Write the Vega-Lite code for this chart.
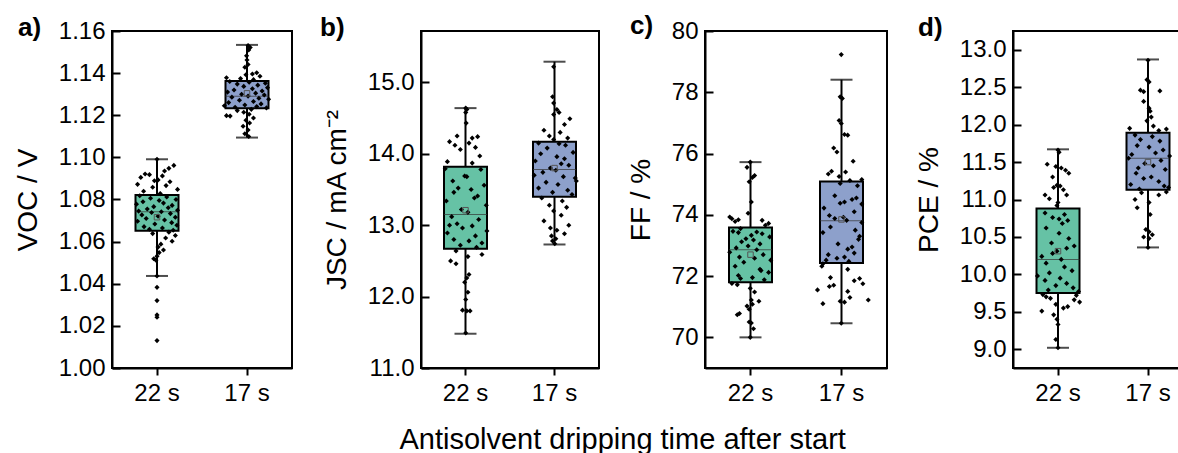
{
"$schema":"https://vega.github.io/schema/vega-lite/v6.json",
"padding":{"left":13,"right":0,"top":12,"bottom":0},
"title":{"text":"Antisolvent dripping time after start","orient":"bottom","anchor":"middle","fontSize":29,"font":"Liberation Sans","fontWeight":"normal","color":"black","offset":20,"dx":19},
"spacing":26,
"config":{
 "view":{"stroke":"black","strokeWidth":2},
 "font":"Liberation Sans",
 "axis":{"labelFont":"Liberation Sans","labelFontSize":24,"labelColor":"black","tickColor":"black","domainColor":"black","domainWidth":2,"titleFont":"Liberation Sans","titleFontSize":28,"titleFontWeight":"normal","titleColor":"black","grid":false,"labelOverlap":false},
 "axisX":{"tickSize":7,"tickWidth":2,"labelPadding":6,"labelAngle":0,"title":null},
 "axisY":{"tickWidth":2,"labelPadding":15,"titlePadding":16,"labelFlush":false,"zindex":1}
},
"hconcat":[
{
 "width":180,"height":337,
 "title":{"text":"a)","anchor":"start","frame":"group","dx":-94,"dy":43,"offset":0,"baseline":"alphabetic","fontSize":26,"fontWeight":"bold","font":"Liberation Sans","color":"black"},
 "layer":[
  {"data":{"name":"aB"},"mark":{"type":"rule","strokeWidth":2,"color":"black"},
   "encoding":{"x":{"field":"g","type":"nominal","scale":{"domain":["22 s","17 s"],"paddingInner":0.52,"paddingOuter":0.26}},
    "y":{"field":"lo","type":"quantitative","scale":{"domain":[1.0,1.16],"nice":false,"zero":false},
     "axis":{"title":"VOC / V","ticks":true,"tickColor":"black","values":[1,1.01,1.02,1.03,1.04,1.05,1.06,1.07,1.08,1.09,1.1,1.11,1.12,1.13,1.14,1.15,1.16],
      "labelExpr":"round(datum.value*100)%2==0 ? format(datum.value,'.2f') : ''",
      "tickSize":{"condition":{"test":"round(datum.value*100)%2==0","value":-8},"value":-4}}},
    "y2":{"field":"hi"}}},
  {"data":{"name":"aB"},"mark":{"type":"bar","stroke":"black","strokeWidth":2,"width":43},
   "encoding":{"x":{"field":"g","type":"nominal"},"y":{"field":"q1","type":"quantitative"},"y2":{"field":"q3"},
    "color":{"field":"g","type":"nominal","scale":{"domain":["22 s","17 s"],"range":["#66c2a5","#8da0cb"]},"legend":null}}},
  {"data":{"name":"aB"},"mark":{"type":"tick","color":"#333333","thickness":1,"size":43},
   "encoding":{"x":{"field":"g","type":"nominal"},"y":{"field":"med","type":"quantitative"}}},
  {"data":{"name":"aP"},"mark":{"type":"point","shape":"diamond","filled":true,"color":"black","size":26,"opacity":1},
   "encoding":{"x":{"field":"g","type":"nominal"},"xOffset":{"field":"j","type":"quantitative","scale":{"domain":[-1,1]}},"y":{"field":"v","type":"quantitative"}}},
  {"data":{"name":"aB"},"mark":{"type":"point","shape":"square","filled":false,"color":"#555555","size":30,"strokeWidth":1,"opacity":1},
   "encoding":{"x":{"field":"g","type":"nominal"},"y":{"field":"mean","type":"quantitative"}}},
  {"data":{"name":"aB"},"mark":{"type":"tick","color":"black","thickness":2,"size":22},
   "encoding":{"x":{"field":"g","type":"nominal"},"y":{"field":"lo","type":"quantitative"}}},
  {"data":{"name":"aB"},"mark":{"type":"tick","color":"black","thickness":2,"size":22},
   "encoding":{"x":{"field":"g","type":"nominal"},"y":{"field":"hi","type":"quantitative"}}}
 ]
},
{
 "width":178,"height":337,
 "title":{"text":"b)","anchor":"start","frame":"group","dx":-101,"dy":31,"offset":0,"baseline":"alphabetic","fontSize":26,"fontWeight":"bold","font":"Liberation Sans","color":"black"},
 "layer":[
  {"data":{"name":"bB"},"mark":{"type":"rule","strokeWidth":2,"color":"black"},
   "encoding":{"x":{"field":"g","type":"nominal","scale":{"domain":["22 s","17 s"],"paddingInner":0.52,"paddingOuter":0.26}},
    "y":{"field":"lo","type":"quantitative","scale":{"domain":[11.0,15.72],"nice":false,"zero":false},
     "axis":{"title":"JSC / mA cm⁻²","ticks":true,"tickColor":"black","values":[11,11.25,11.5,11.75,12,12.25,12.5,12.75,13,13.25,13.5,13.75,14,14.25,14.5,14.75,15,15.25,15.5],
      "labelExpr":"round(datum.value*4)%2==0 ? format(datum.value,'.1f') : ''",
      "tickSize":{"condition":{"test":"round(datum.value*4)%2==0","value":-8},"value":-4}}},
    "y2":{"field":"hi"}}},
  {"data":{"name":"bB"},"mark":{"type":"bar","stroke":"black","strokeWidth":2,"width":43},
   "encoding":{"x":{"field":"g","type":"nominal"},"y":{"field":"q1","type":"quantitative"},"y2":{"field":"q3"},
    "color":{"field":"g","type":"nominal","scale":{"domain":["22 s","17 s"],"range":["#66c2a5","#8da0cb"]},"legend":null}}},
  {"data":{"name":"bB"},"mark":{"type":"tick","color":"#333333","thickness":1,"size":43},
   "encoding":{"x":{"field":"g","type":"nominal"},"y":{"field":"med","type":"quantitative"}}},
  {"data":{"name":"bP"},"mark":{"type":"point","shape":"diamond","filled":true,"color":"black","size":26,"opacity":1},
   "encoding":{"x":{"field":"g","type":"nominal"},"xOffset":{"field":"j","type":"quantitative","scale":{"domain":[-1,1]}},"y":{"field":"v","type":"quantitative"}}},
  {"data":{"name":"bB"},"mark":{"type":"point","shape":"square","filled":false,"color":"#555555","size":30,"strokeWidth":1,"opacity":1},
   "encoding":{"x":{"field":"g","type":"nominal"},"y":{"field":"mean","type":"quantitative"}}},
  {"data":{"name":"bB"},"mark":{"type":"tick","color":"black","thickness":2,"size":22},
   "encoding":{"x":{"field":"g","type":"nominal"},"y":{"field":"lo","type":"quantitative"}}},
  {"data":{"name":"bB"},"mark":{"type":"tick","color":"black","thickness":2,"size":22},
   "encoding":{"x":{"field":"g","type":"nominal"},"y":{"field":"hi","type":"quantitative"}}}
 ]
},
{
 "width":182,"height":337,
 "title":{"text":"c)","anchor":"start","frame":"group","dx":-75,"dy":41,"offset":0,"baseline":"alphabetic","fontSize":26,"fontWeight":"bold","font":"Liberation Sans","color":"black"},
 "layer":[
  {"data":{"name":"cB"},"mark":{"type":"rule","strokeWidth":2,"color":"black"},
   "encoding":{"x":{"field":"g","type":"nominal","scale":{"domain":["22 s","17 s"],"paddingInner":0.52,"paddingOuter":0.26}},
    "y":{"field":"lo","type":"quantitative","scale":{"domain":[69,80],"nice":false,"zero":false},
     "axis":{"title":"FF / %","ticks":true,"tickColor":"black","values":[70,71,72,73,74,75,76,77,78,79,80],
      "labelExpr":"round(datum.value)%2==0 ? format(datum.value,'d') : ''",
      "tickSize":{"condition":{"test":"round(datum.value)%2==0","value":-8},"value":-4}}},
    "y2":{"field":"hi"}}},
  {"data":{"name":"cB"},"mark":{"type":"bar","stroke":"black","strokeWidth":2,"width":43},
   "encoding":{"x":{"field":"g","type":"nominal"},"y":{"field":"q1","type":"quantitative"},"y2":{"field":"q3"},
    "color":{"field":"g","type":"nominal","scale":{"domain":["22 s","17 s"],"range":["#66c2a5","#8da0cb"]},"legend":null}}},
  {"data":{"name":"cB"},"mark":{"type":"tick","color":"#333333","thickness":1,"size":43},
   "encoding":{"x":{"field":"g","type":"nominal"},"y":{"field":"med","type":"quantitative"}}},
  {"data":{"name":"cP"},"mark":{"type":"point","shape":"diamond","filled":true,"color":"black","size":26,"opacity":1},
   "encoding":{"x":{"field":"g","type":"nominal"},"xOffset":{"field":"j","type":"quantitative","scale":{"domain":[-1,1]}},"y":{"field":"v","type":"quantitative"}}},
  {"data":{"name":"cB"},"mark":{"type":"point","shape":"square","filled":false,"color":"#555555","size":30,"strokeWidth":1,"opacity":1},
   "encoding":{"x":{"field":"g","type":"nominal"},"y":{"field":"mean","type":"quantitative"}}},
  {"data":{"name":"cB"},"mark":{"type":"tick","color":"black","thickness":2,"size":22},
   "encoding":{"x":{"field":"g","type":"nominal"},"y":{"field":"lo","type":"quantitative"}}},
  {"data":{"name":"cB"},"mark":{"type":"tick","color":"black","thickness":2,"size":22},
   "encoding":{"x":{"field":"g","type":"nominal"},"y":{"field":"hi","type":"quantitative"}}}
 ]
},
{
 "width":180,"height":337,
 "title":{"text":"d)","anchor":"start","frame":"group","dx":-95,"dy":31,"offset":0,"baseline":"alphabetic","fontSize":26,"fontWeight":"bold","font":"Liberation Sans","color":"black"},
 "layer":[
  {"data":{"name":"dB"},"mark":{"type":"rule","strokeWidth":2,"color":"black"},
   "encoding":{"x":{"field":"g","type":"nominal","scale":{"domain":["22 s","17 s"],"paddingInner":0.52,"paddingOuter":0.26}},
    "y":{"field":"lo","type":"quantitative","scale":{"domain":[8.75,13.25],"nice":false,"zero":false},
     "axis":{"title":"PCE / %","ticks":true,"tickColor":"black","values":[9,9.25,9.5,9.75,10,10.25,10.5,10.75,11,11.25,11.5,11.75,12,12.25,12.5,12.75,13],
      "labelExpr":"round(datum.value*4)%2==0 ? format(datum.value,'.1f') : ''",
      "tickSize":{"condition":{"test":"round(datum.value*4)%2==0","value":-8},"value":-4}}},
    "y2":{"field":"hi"}}},
  {"data":{"name":"dB"},"mark":{"type":"bar","stroke":"black","strokeWidth":2,"width":43},
   "encoding":{"x":{"field":"g","type":"nominal"},"y":{"field":"q1","type":"quantitative"},"y2":{"field":"q3"},
    "color":{"field":"g","type":"nominal","scale":{"domain":["22 s","17 s"],"range":["#66c2a5","#8da0cb"]},"legend":null}}},
  {"data":{"name":"dB"},"mark":{"type":"tick","color":"#333333","thickness":1,"size":43},
   "encoding":{"x":{"field":"g","type":"nominal"},"y":{"field":"med","type":"quantitative"}}},
  {"data":{"name":"dP"},"mark":{"type":"point","shape":"diamond","filled":true,"color":"black","size":26,"opacity":1},
   "encoding":{"x":{"field":"g","type":"nominal"},"xOffset":{"field":"j","type":"quantitative","scale":{"domain":[-1,1]}},"y":{"field":"v","type":"quantitative"}}},
  {"data":{"name":"dB"},"mark":{"type":"point","shape":"square","filled":false,"color":"#555555","size":30,"strokeWidth":1,"opacity":1},
   "encoding":{"x":{"field":"g","type":"nominal"},"y":{"field":"mean","type":"quantitative"}}},
  {"data":{"name":"dB"},"mark":{"type":"tick","color":"black","thickness":2,"size":22},
   "encoding":{"x":{"field":"g","type":"nominal"},"y":{"field":"lo","type":"quantitative"}}},
  {"data":{"name":"dB"},"mark":{"type":"tick","color":"black","thickness":2,"size":22},
   "encoding":{"x":{"field":"g","type":"nominal"},"y":{"field":"hi","type":"quantitative"}}}
 ]
}
],
"datasets":{
"aB":[{"g":"22 s","lo":1.0437,"q1":1.0652,"med":1.0742,"q3":1.0821,"hi":1.0991,"mean":1.0716},{"g":"17 s","lo":1.1094,"q1":1.1233,"med":1.129,"q3":1.1363,"hi":1.1534,"mean":1.1304}],
"bB":[{"g":"22 s","lo":11.48,"q1":12.67,"med":13.15,"q3":13.82,"hi":14.64,"mean":13.21},{"g":"17 s","lo":12.73,"q1":13.4,"med":13.78,"q3":14.17,"hi":15.29,"mean":13.8}],
"cB":[{"g":"22 s","lo":70.0,"q1":71.8,"med":72.86,"q3":73.59,"hi":75.72,"mean":72.7},{"g":"17 s","lo":70.46,"q1":72.43,"med":73.81,"q3":75.09,"hi":78.41,"mean":73.85}],
"dB":[{"g":"22 s","lo":9.02,"q1":9.75,"med":10.2,"q3":10.88,"hi":11.67,"mean":10.31},{"g":"17 s","lo":10.36,"q1":11.13,"med":11.55,"q3":11.89,"hi":12.87,"mean":11.5}],
"aP":[
{"g":"22 s","v":1.0991,"j":0},{"g":"22 s","v":1.0962,"j":0.78},{"g":"22 s","v":1.0948,"j":0.55},{"g":"22 s","v":1.0935,"j":0.35},{"g":"22 s","v":1.0921,"j":-0.55},{"g":"22 s","v":1.0918,"j":-0.35},{"g":"22 s","v":1.0912,"j":0.25},{"g":"22 s","v":1.0905,"j":-0.75},{"g":"22 s","v":1.0893,"j":0.05},{"g":"22 s","v":1.0889,"j":-0.12},{"g":"22 s","v":1.0884,"j":0.6},{"g":"22 s","v":1.0872,"j":-0.9},{"g":"22 s","v":1.0866,"j":0.42},{"g":"22 s","v":1.0858,"j":-0.2},{"g":"22 s","v":1.0848,"j":0.95},{"g":"22 s","v":1.0839,"j":-0.62},{"g":"22 s","v":1.0828,"j":0.15},
{"g":"22 s","v":1.0818,"j":-0.8},{"g":"22 s","v":1.0812,"j":0.45},{"g":"22 s","v":1.0806,"j":-0.3},{"g":"22 s","v":1.08,"j":0.88},{"g":"22 s","v":1.0795,"j":0.1},{"g":"22 s","v":1.0789,"j":-0.65},{"g":"22 s","v":1.0783,"j":0.3},{"g":"22 s","v":1.0778,"j":-0.95},{"g":"22 s","v":1.0772,"j":0.7},{"g":"22 s","v":1.0766,"j":-0.15},{"g":"22 s","v":1.0761,"j":0.52},{"g":"22 s","v":1.0755,"j":-0.45},{"g":"22 s","v":1.0749,"j":0.95},{"g":"22 s","v":1.0745,"j":-0.85},{"g":"22 s","v":1.0742,"j":0.2},{"g":"22 s","v":1.0738,"j":-0.25},{"g":"22 s","v":1.0733,"j":0.62},{"g":"22 s","v":1.0727,"j":-0.7},{"g":"22 s","v":1.0721,"j":0.05},{"g":"22 s","v":1.0716,"j":0.85},{"g":"22 s","v":1.071,"j":-0.5},{"g":"22 s","v":1.0703,"j":0.35},{"g":"22 s","v":1.0697,"j":-0.9},{"g":"22 s","v":1.069,"j":0.68},{"g":"22 s","v":1.0684,"j":-0.1},{"g":"22 s","v":1.0678,"j":0.92},{"g":"22 s","v":1.0671,"j":-0.6},{"g":"22 s","v":1.0665,"j":0.25},{"g":"22 s","v":1.0659,"j":-0.35},{"g":"22 s","v":1.0654,"j":0.75},
{"g":"22 s","v":1.0645,"j":0.55},{"g":"22 s","v":1.0638,"j":-0.2},{"g":"22 s","v":1.0629,"j":0.85},{"g":"22 s","v":1.0617,"j":0.4},{"g":"22 s","v":1.0602,"j":0.7},{"g":"22 s","v":1.0588,"j":0.18},{"g":"22 s","v":1.0574,"j":0.05},{"g":"22 s","v":1.056,"j":0.3},{"g":"22 s","v":1.0548,"j":0.1},{"g":"22 s","v":1.0531,"j":0},{"g":"22 s","v":1.0519,"j":-0.15},{"g":"22 s","v":1.0512,"j":-0.05},{"g":"22 s","v":1.0437,"j":0},{"g":"22 s","v":1.0383,"j":0},{"g":"22 s","v":1.032,"j":0},{"g":"22 s","v":1.0252,"j":0},{"g":"22 s","v":1.0241,"j":0},{"g":"22 s","v":1.013,"j":0},
{"g":"17 s","v":1.1531,"j":0.05},{"g":"17 s","v":1.1522,"j":0.15},{"g":"17 s","v":1.151,"j":0.08},{"g":"17 s","v":1.1482,"j":-0.02},{"g":"17 s","v":1.1462,"j":0},{"g":"17 s","v":1.1441,"j":0.05},{"g":"17 s","v":1.1428,"j":-0.1},{"g":"17 s","v":1.1402,"j":0.45},{"g":"17 s","v":1.1396,"j":0.25},{"g":"17 s","v":1.1392,"j":-0.05},{"g":"17 s","v":1.1385,"j":0.6},{"g":"17 s","v":1.1378,"j":-0.95},{"g":"17 s","v":1.1374,"j":-0.3},{"g":"17 s","v":1.1369,"j":0.3},
{"g":"17 s","v":1.136,"j":-0.8},{"g":"17 s","v":1.1357,"j":0.1},{"g":"17 s","v":1.1352,"j":0.85},{"g":"17 s","v":1.1348,"j":-0.45},{"g":"17 s","v":1.1343,"j":0.5},{"g":"17 s","v":1.1337,"j":-0.15},{"g":"17 s","v":1.1331,"j":0.95},{"g":"17 s","v":1.1326,"j":0.25},{"g":"17 s","v":1.132,"j":-0.6},{"g":"17 s","v":1.1315,"j":0.7},{"g":"17 s","v":1.131,"j":-0.9},{"g":"17 s","v":1.1305,"j":0.4},{"g":"17 s","v":1.13,"j":-0.25},{"g":"17 s","v":1.1296,"j":0.8},{"g":"17 s","v":1.1291,"j":0.05},{"g":"17 s","v":1.1286,"j":-0.7},{"g":"17 s","v":1.1281,"j":0.55},{"g":"17 s","v":1.1276,"j":1.0},{"g":"17 s","v":1.1271,"j":-0.35},{"g":"17 s","v":1.1265,"j":0.3},{"g":"17 s","v":1.126,"j":-0.85},{"g":"17 s","v":1.1254,"j":0.65},{"g":"17 s","v":1.1249,"j":-0.1},{"g":"17 s","v":1.1245,"j":-1.05},{"g":"17 s","v":1.1241,"j":0.45},{"g":"17 s","v":1.1238,"j":-0.55},{"g":"17 s","v":1.1235,"j":0.9},
{"g":"17 s","v":1.1228,"j":0.2},{"g":"17 s","v":1.1222,"j":-0.45},{"g":"17 s","v":1.1214,"j":-0.15},{"g":"17 s","v":1.1205,"j":0.1},{"g":"17 s","v":1.1198,"j":-0.95},{"g":"17 s","v":1.1196,"j":-0.78},{"g":"17 s","v":1.1187,"j":0.3},{"g":"17 s","v":1.1176,"j":-0.05},{"g":"17 s","v":1.1163,"j":0.12},{"g":"17 s","v":1.1148,"j":-0.18},{"g":"17 s","v":1.113,"j":0.05},{"g":"17 s","v":1.1112,"j":-0.1},{"g":"17 s","v":1.1099,"j":0.08}
],
"bP":[
{"g":"22 s","v":14.64,"j":0},{"g":"22 s","v":14.62,"j":0.05},{"g":"22 s","v":14.58,"j":0},{"g":"22 s","v":14.43,"j":0.02},{"g":"22 s","v":14.25,"j":-0.4},{"g":"22 s","v":14.24,"j":0.55},{"g":"22 s","v":14.22,"j":0.3},{"g":"22 s","v":14.17,"j":-0.75},{"g":"22 s","v":14.15,"j":0.15},{"g":"22 s","v":14.12,"j":-0.5},{"g":"22 s","v":14.09,"j":0.45},{"g":"22 s","v":14.06,"j":-0.25},{"g":"22 s","v":13.97,"j":0.65},{"g":"22 s","v":13.89,"j":-0.85},{"g":"22 s","v":13.87,"j":0.3},
{"g":"22 s","v":13.79,"j":-0.95},{"g":"22 s","v":13.78,"j":0.7},{"g":"22 s","v":13.69,"j":-0.05},{"g":"22 s","v":13.68,"j":0.05},{"g":"22 s","v":13.62,"j":-0.6},{"g":"22 s","v":13.56,"j":0.85},{"g":"22 s","v":13.52,"j":-0.35},{"g":"22 s","v":13.5,"j":0.25},{"g":"22 s","v":13.46,"j":-0.55},{"g":"22 s","v":13.41,"j":0.55},{"g":"22 s","v":13.38,"j":0.4},{"g":"22 s","v":13.34,"j":-0.9},{"g":"22 s","v":13.28,"j":0.95},{"g":"22 s","v":13.22,"j":-0.2},{"g":"22 s","v":13.18,"j":0.1},{"g":"22 s","v":13.12,"j":-0.65},{"g":"22 s","v":13.08,"j":0.6},{"g":"22 s","v":13.02,"j":-0.4},{"g":"22 s","v":13.0,"j":-0.75},{"g":"22 s","v":12.99,"j":0.3},{"g":"22 s","v":12.96,"j":-0.15},{"g":"22 s","v":12.92,"j":0.98},{"g":"22 s","v":12.89,"j":-0.85},{"g":"22 s","v":12.85,"j":0.45},{"g":"22 s","v":12.8,"j":-0.55},{"g":"22 s","v":12.78,"j":0.15},{"g":"22 s","v":12.75,"j":0.75},{"g":"22 s","v":12.72,"j":-0.25},{"g":"22 s","v":12.69,"j":0.5},
{"g":"22 s","v":12.64,"j":-0.45},{"g":"22 s","v":12.59,"j":0.75},{"g":"22 s","v":12.56,"j":0.1},{"g":"22 s","v":12.5,"j":-0.7},{"g":"22 s","v":12.46,"j":-0.45},{"g":"22 s","v":12.31,"j":0.15},{"g":"22 s","v":12.26,"j":0.05},{"g":"22 s","v":12.2,"j":-0.05},{"g":"22 s","v":12.06,"j":0.1},{"g":"22 s","v":11.96,"j":0},{"g":"22 s","v":11.81,"j":-0.15},{"g":"22 s","v":11.8,"j":0.05},{"g":"22 s","v":11.8,"j":0.2},{"g":"22 s","v":11.49,"j":0},
{"g":"17 s","v":15.22,"j":-0.05},{"g":"17 s","v":14.8,"j":-0.1},{"g":"17 s","v":14.71,"j":-0.05},{"g":"17 s","v":14.62,"j":0.1},{"g":"17 s","v":14.58,"j":0.2},{"g":"17 s","v":14.55,"j":-0.05},{"g":"17 s","v":14.49,"j":0.7},{"g":"17 s","v":14.41,"j":0.45},{"g":"17 s","v":14.33,"j":-0.5},{"g":"17 s","v":14.3,"j":0.25},{"g":"17 s","v":14.25,"j":-0.25},{"g":"17 s","v":14.22,"j":0.6},{"g":"17 s","v":14.2,"j":-0.05},
{"g":"17 s","v":14.15,"j":-0.75},{"g":"17 s","v":14.14,"j":0.2},{"g":"17 s","v":14.12,"j":0.5},{"g":"17 s","v":14.08,"j":-0.35},{"g":"17 s","v":14.02,"j":0.85},{"g":"17 s","v":14.0,"j":-0.65},{"g":"17 s","v":13.96,"j":0.1},{"g":"17 s","v":13.93,"j":0.45},{"g":"17 s","v":13.9,"j":-0.9},{"g":"17 s","v":13.86,"j":0.3},{"g":"17 s","v":13.84,"j":0.65},{"g":"17 s","v":13.8,"j":-0.2},{"g":"17 s","v":13.77,"j":0.05},{"g":"17 s","v":13.74,"j":-0.55},{"g":"17 s","v":13.7,"j":-0.95},{"g":"17 s","v":13.68,"j":0.4},{"g":"17 s","v":13.66,"j":0.95},{"g":"17 s","v":13.62,"j":1.0},{"g":"17 s","v":13.6,"j":-0.4},{"g":"17 s","v":13.57,"j":0.15},{"g":"17 s","v":13.52,"j":-0.75},{"g":"17 s","v":13.49,"j":0.6},{"g":"17 s","v":13.46,"j":-0.1},{"g":"17 s","v":13.43,"j":0.8},
{"g":"17 s","v":13.38,"j":-0.6},{"g":"17 s","v":13.34,"j":0.35},{"g":"17 s","v":13.28,"j":-0.25},{"g":"17 s","v":13.25,"j":0.55},{"g":"17 s","v":13.2,"j":-0.05},{"g":"17 s","v":13.14,"j":0.3},{"g":"17 s","v":13.06,"j":-0.5},{"g":"17 s","v":13.0,"j":0.65},{"g":"17 s","v":12.96,"j":-0.2},{"g":"17 s","v":12.93,"j":0.1},{"g":"17 s","v":12.88,"j":0.45},{"g":"17 s","v":12.85,"j":-0.15},{"g":"17 s","v":12.81,"j":0.05},{"g":"17 s","v":12.78,"j":-0.1},{"g":"17 s","v":12.74,"j":0}
],
"cP":[
{"g":"22 s","v":75.72,"j":0},{"g":"22 s","v":75.55,"j":-0.15},{"g":"22 s","v":75.28,"j":0.2},{"g":"22 s","v":75.22,"j":0.1},{"g":"22 s","v":75.08,"j":-0.05},{"g":"22 s","v":74.42,"j":0.05},{"g":"22 s","v":74.05,"j":-0.1},{"g":"22 s","v":73.93,"j":-0.95},{"g":"22 s","v":73.87,"j":-0.85},{"g":"22 s","v":73.84,"j":-0.55},{"g":"22 s","v":73.82,"j":0.55},{"g":"22 s","v":73.78,"j":-0.7},{"g":"22 s","v":73.72,"j":0.85},{"g":"22 s","v":73.66,"j":0.7},
{"g":"22 s","v":73.55,"j":-0.45},{"g":"22 s","v":73.46,"j":-0.8},{"g":"22 s","v":73.44,"j":0.3},{"g":"22 s","v":73.42,"j":-0.55},{"g":"22 s","v":73.38,"j":0.55},{"g":"22 s","v":73.33,"j":0.05},{"g":"22 s","v":73.28,"j":0.9},{"g":"22 s","v":73.22,"j":-0.2},{"g":"22 s","v":73.18,"j":0.15},{"g":"22 s","v":73.12,"j":-0.4},{"g":"22 s","v":73.05,"j":0.45},{"g":"22 s","v":72.98,"j":-0.1},{"g":"22 s","v":72.92,"j":-0.65},{"g":"22 s","v":72.86,"j":0.3},{"g":"22 s","v":72.78,"j":-0.95},{"g":"22 s","v":72.7,"j":0.6},{"g":"22 s","v":72.62,"j":-0.5},{"g":"22 s","v":72.58,"j":0.2},{"g":"22 s","v":72.52,"j":0.95},{"g":"22 s","v":72.45,"j":-0.3},{"g":"22 s","v":72.32,"j":-0.7},{"g":"22 s","v":72.22,"j":0.45},{"g":"22 s","v":72.18,"j":0.5},{"g":"22 s","v":72.12,"j":0.85},{"g":"22 s","v":72.02,"j":-0.55},{"g":"22 s","v":71.95,"j":0.1},{"g":"22 s","v":71.92,"j":-0.45},{"g":"22 s","v":71.88,"j":0.65},
{"g":"22 s","v":71.76,"j":-0.85},{"g":"22 s","v":71.72,"j":-0.6},{"g":"22 s","v":71.6,"j":0},{"g":"22 s","v":71.48,"j":0.2},{"g":"22 s","v":71.22,"j":0.05},{"g":"22 s","v":71.18,"j":0.4},{"g":"22 s","v":71.08,"j":0.1},{"g":"22 s","v":71.02,"j":-0.15},{"g":"22 s","v":70.92,"j":-0.05},{"g":"22 s","v":70.78,"j":-0.5},{"g":"22 s","v":70.74,"j":-0.6},{"g":"22 s","v":70.5,"j":-0.05},{"g":"22 s","v":70.47,"j":0.05},{"g":"22 s","v":70.28,"j":0.15},{"g":"22 s","v":70.0,"j":0},
{"g":"17 s","v":79.23,"j":0},{"g":"17 s","v":77.85,"j":-0.05},{"g":"17 s","v":77.8,"j":0.05},{"g":"17 s","v":77.08,"j":-0.1},{"g":"17 s","v":76.98,"j":0},{"g":"17 s","v":76.62,"j":0.15},{"g":"17 s","v":76.6,"j":0.3},{"g":"17 s","v":76.18,"j":-0.35},{"g":"17 s","v":76.05,"j":-0.2},{"g":"17 s","v":75.75,"j":0.55},{"g":"17 s","v":75.42,"j":-0.45},{"g":"17 s","v":75.4,"j":0.2},{"g":"17 s","v":75.33,"j":-0.6},{"g":"17 s","v":75.25,"j":-0.1},{"g":"17 s","v":75.15,"j":0.95},{"g":"17 s","v":75.12,"j":0.4},
{"g":"17 s","v":75.02,"j":-0.05},{"g":"17 s","v":74.95,"j":0.75},{"g":"17 s","v":74.62,"j":-0.3},{"g":"17 s","v":74.55,"j":0.7},{"g":"17 s","v":74.5,"j":0.5},{"g":"17 s","v":74.42,"j":0.15},{"g":"17 s","v":74.38,"j":-0.05},{"g":"17 s","v":74.35,"j":0.95},{"g":"17 s","v":74.22,"j":-0.8},{"g":"17 s","v":74.1,"j":0.6},{"g":"17 s","v":73.98,"j":-0.55},{"g":"17 s","v":73.92,"j":0.1},{"g":"17 s","v":73.88,"j":-0.3},{"g":"17 s","v":73.82,"j":0.25},{"g":"17 s","v":73.75,"j":0.95},{"g":"17 s","v":73.6,"j":-0.5},{"g":"17 s","v":73.5,"j":0.65},{"g":"17 s","v":73.42,"j":-0.85},{"g":"17 s","v":73.3,"j":0.85},{"g":"17 s","v":73.2,"j":0.8},{"g":"17 s","v":73.05,"j":-0.15},{"g":"17 s","v":72.95,"j":0.5},{"g":"17 s","v":72.88,"j":0.3},{"g":"17 s","v":72.75,"j":0.6},{"g":"17 s","v":72.7,"j":-0.6},{"g":"17 s","v":72.62,"j":0.15},{"g":"17 s","v":72.58,"j":-0.2},{"g":"17 s","v":72.52,"j":-0.7},{"g":"17 s","v":72.48,"j":0.35},
{"g":"17 s","v":72.4,"j":-0.85},{"g":"17 s","v":72.32,"j":-0.9},{"g":"17 s","v":72.22,"j":0.3},{"g":"17 s","v":71.95,"j":-0.5},{"g":"17 s","v":71.92,"j":0.85},{"g":"17 s","v":71.85,"j":0.6},{"g":"17 s","v":71.75,"j":1.0},{"g":"17 s","v":71.7,"j":-0.35},{"g":"17 s","v":71.66,"j":-0.55},{"g":"17 s","v":71.55,"j":-1.1},{"g":"17 s","v":71.5,"j":0.3},{"g":"17 s","v":71.3,"j":0.4},{"g":"17 s","v":71.22,"j":1.25},{"g":"17 s","v":71.18,"j":-0.05},{"g":"17 s","v":71.1,"j":-0.85},{"g":"17 s","v":71.15,"j":0.15},{"g":"17 s","v":70.46,"j":0}
],
"dP":[
{"g":"22 s","v":11.66,"j":0},{"g":"22 s","v":11.63,"j":0.05},{"g":"22 s","v":11.47,"j":-0.5},{"g":"22 s","v":11.44,"j":-0.1},{"g":"22 s","v":11.42,"j":0.15},{"g":"22 s","v":11.39,"j":0.35},{"g":"22 s","v":11.35,"j":0.5},{"g":"22 s","v":11.3,"j":-0.25},{"g":"22 s","v":11.19,"j":-0.05},{"g":"22 s","v":11.18,"j":0.1},{"g":"22 s","v":11.16,"j":-0.2},{"g":"22 s","v":11.13,"j":0.25},{"g":"22 s","v":11.06,"j":-0.6},{"g":"22 s","v":11.06,"j":0.4},{"g":"22 s","v":11.01,"j":-0.4},{"g":"22 s","v":10.96,"j":0},{"g":"22 s","v":10.92,"j":-0.05},
{"g":"22 s","v":10.82,"j":-0.6},{"g":"22 s","v":10.8,"j":0.3},{"g":"22 s","v":10.76,"j":-0.25},{"g":"22 s","v":10.74,"j":0.05},{"g":"22 s","v":10.72,"j":0.45},{"g":"22 s","v":10.68,"j":0.2},{"g":"22 s","v":10.62,"j":-0.55},{"g":"22 s","v":10.55,"j":0.05},{"g":"22 s","v":10.48,"j":0.5},{"g":"22 s","v":10.42,"j":-0.3},{"g":"22 s","v":10.38,"j":0.75},{"g":"22 s","v":10.35,"j":0.4},{"g":"22 s","v":10.31,"j":-0.05},{"g":"22 s","v":10.28,"j":-0.25},{"g":"22 s","v":10.24,"j":-0.75},{"g":"22 s","v":10.2,"j":0.15},{"g":"22 s","v":10.15,"j":-0.55},{"g":"22 s","v":10.1,"j":0.3},{"g":"22 s","v":10.05,"j":0.65},{"g":"22 s","v":10.02,"j":-0.4},{"g":"22 s","v":9.98,"j":-0.95},{"g":"22 s","v":9.95,"j":0.1},{"g":"22 s","v":9.92,"j":-0.6},{"g":"22 s","v":9.88,"j":0.4},{"g":"22 s","v":9.85,"j":-0.1},{"g":"22 s","v":9.82,"j":0.7},{"g":"22 s","v":9.79,"j":-0.45},{"g":"22 s","v":9.77,"j":0.95},
{"g":"22 s","v":9.73,"j":-0.7},{"g":"22 s","v":9.72,"j":0.85},{"g":"22 s","v":9.7,"j":-0.55},{"g":"22 s","v":9.68,"j":-0.35},{"g":"22 s","v":9.66,"j":0.75},{"g":"22 s","v":9.63,"j":1.0},{"g":"22 s","v":9.6,"j":-0.1},{"g":"22 s","v":9.57,"j":0.45},{"g":"22 s","v":9.55,"j":0.25},{"g":"22 s","v":9.51,"j":-0.75},{"g":"22 s","v":9.46,"j":-0.2},{"g":"22 s","v":9.4,"j":-0.05},{"g":"22 s","v":9.33,"j":0},{"g":"22 s","v":9.13,"j":-0.1},{"g":"22 s","v":9.02,"j":0},
{"g":"17 s","v":12.86,"j":0},{"g":"17 s","v":12.6,"j":-0.05},{"g":"17 s","v":12.57,"j":0.05},{"g":"17 s","v":12.46,"j":-0.35},{"g":"17 s","v":12.44,"j":-0.2},{"g":"17 s","v":12.45,"j":0.55},{"g":"17 s","v":12.31,"j":-0.2},{"g":"17 s","v":12.22,"j":0.05},{"g":"17 s","v":12.18,"j":0.1},{"g":"17 s","v":12.1,"j":0.15},{"g":"17 s","v":12.05,"j":-0.05},{"g":"17 s","v":11.98,"j":0.25},{"g":"17 s","v":11.95,"j":-0.85},{"g":"17 s","v":11.94,"j":0.85},{"g":"17 s","v":11.92,"j":0.5},
{"g":"17 s","v":11.86,"j":-0.6},{"g":"17 s","v":11.84,"j":0.2},{"g":"17 s","v":11.8,"j":-0.35},{"g":"17 s","v":11.78,"j":0.55},{"g":"17 s","v":11.72,"j":-0.5},{"g":"17 s","v":11.7,"j":0.05},{"g":"17 s","v":11.66,"j":0.7},{"g":"17 s","v":11.62,"j":0.35},{"g":"17 s","v":11.6,"j":-0.75},{"g":"17 s","v":11.58,"j":1.0},{"g":"17 s","v":11.55,"j":-0.9},{"g":"17 s","v":11.52,"j":0.6},{"g":"17 s","v":11.48,"j":-0.15},{"g":"17 s","v":11.45,"j":0.25},{"g":"17 s","v":11.42,"j":-0.45},{"g":"17 s","v":11.4,"j":0.8},{"g":"17 s","v":11.35,"j":-0.55},{"g":"17 s","v":11.3,"j":0.15},{"g":"17 s","v":11.28,"j":-0.2},{"g":"17 s","v":11.24,"j":0.5},{"g":"17 s","v":11.2,"j":-0.8},{"g":"17 s","v":11.18,"j":0.75},{"g":"17 s","v":11.16,"j":0.95},{"g":"17 s","v":11.14,"j":-0.4},
{"g":"17 s","v":11.1,"j":0.85},{"g":"17 s","v":11.09,"j":-0.3},{"g":"17 s","v":11.06,"j":0.5},{"g":"17 s","v":11.0,"j":-0.6},{"g":"17 s","v":10.96,"j":0.05},{"g":"17 s","v":10.89,"j":-0.5},{"g":"17 s","v":10.8,"j":0.1},{"g":"17 s","v":10.6,"j":-0.1},{"g":"17 s","v":10.57,"j":0.05},{"g":"17 s","v":10.53,"j":0.2},{"g":"17 s","v":10.5,"j":-0.2},{"g":"17 s","v":10.48,"j":0.05},{"g":"17 s","v":10.36,"j":0}
]
}
}
